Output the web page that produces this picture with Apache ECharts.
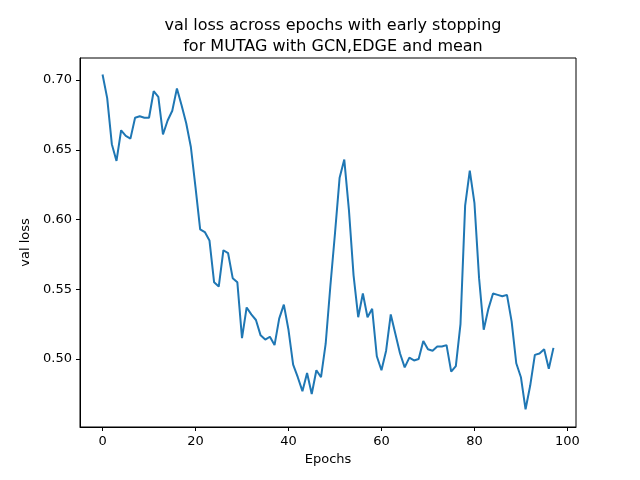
<!DOCTYPE html>
<html>
<head>
<meta charset="utf-8">
<script src="https://cdn.jsdelivr.net/npm/echarts@6/dist/echarts.min.js"></script>
<style>html,body{margin:0;padding:0;background:#fff}#main{width:640px;height:480px}</style>
</head>
<body>
<div id="main"></div>
<script>
var valLoss = [0.704,0.687,0.654,0.642,0.664,0.660,0.658,0.673,0.674,0.673,
  0.673,0.692,0.688,0.661,0.671,0.678,0.694,0.682,0.669,0.652,
  0.623,0.593,0.591,0.585,0.555,0.552,0.578,0.576,0.558,0.555,
  0.515,0.537,0.532,0.528,0.517,0.514,0.516,0.510,0.529,0.539,
  0.521,0.496,0.487,0.477,0.490,0.475,0.492,0.487,0.511,0.552,
  0.590,0.630,0.643,0.607,0.560,0.530,0.547,0.530,0.536,0.502,
  0.492,0.506,0.532,0.518,0.504,0.494,0.501,0.499,0.500,0.513,
  0.507,0.506,0.509,0.509,0.510,0.491,0.495,0.525,0.610,0.635,
  0.612,0.558,0.521,0.536,0.547,0.546,0.545,0.546,0.527,0.497,
  0.487,0.464,0.481,0.503,0.504,0.507,0.493,0.508];
var xTicks = [0, 20, 40, 60, 80, 100];
var yTicks = [0.50, 0.55, 0.60, 0.65, 0.70];

var points = valLoss.map(function (v, i) { return [i, v]; });
var chart = echarts.init(document.getElementById('main'));
var axisBase = {
  axisLine: { show: true, onZero: false, lineStyle: { color: '#000', width: 1 } },
  axisTick: { show: true, length: 4, lineStyle: { color: '#000' } },
  axisLabel: { color: '#000', fontSize: 13, fontFamily: 'DejaVu Sans' },
  splitLine: { show: false },
  nameLocation: 'middle',
  nameTextStyle: { color: '#000', fontSize: 13, fontFamily: 'DejaVu Sans' }
};
chart.setOption({
  animation: false,
  title: {
    text: 'val loss across epochs with early stopping\nfor MUTAG with GCN,EDGE and mean',
    left: 328, top: 10, textAlign: 'center',
    textStyle: { fontSize: 16, fontWeight: 'normal', color: '#000', fontFamily: 'DejaVu Sans', lineHeight: 21 }
  },
  grid: { left: 80, right: 64, top: 58, bottom: 53, show: true, borderColor: '#000', borderWidth: 1 },
  xAxis: Object.assign({}, axisBase, {
    type: 'value', min: -4.85, max: 101.85, name: 'Epochs', nameGap: 25,
    axisLabel: Object.assign({}, axisBase.axisLabel, {
      customValues: xTicks, formatter: function (v) { return String(v); }
    }),
    axisTick: Object.assign({}, axisBase.axisTick, { customValues: xTicks })
  }),
  yAxis: Object.assign({}, axisBase, {
    type: 'value', min: 0.4513, max: 0.7158, name: 'val loss', nameGap: 48,
    axisLabel: Object.assign({}, axisBase.axisLabel, {
      customValues: yTicks, formatter: function (v) { return v.toFixed(2); }
    }),
    axisTick: Object.assign({}, axisBase.axisTick, { customValues: yTicks })
  }),
  series: [{
    type: 'line', data: points, showSymbol: false,
    lineStyle: { color: '#1f77b4', width: 2 }
  }]
});
</script>
</body>
</html>
